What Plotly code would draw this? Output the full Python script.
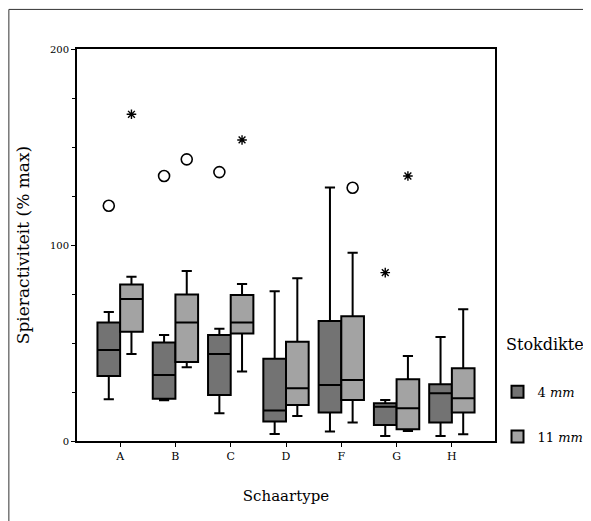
import plotly.graph_objects as go

categories = ["A", "B", "C", "D", "F", "G", "H"]

# 4 mm summary statistics
q1_4 = [33.2, 21.5, 23.5, 9.9, 14.5, 8.2, 9.4]
med_4 = [46.4, 33.7, 44.4, 15.5, 28.6, 17.5, 24.3]
q3_4 = [60.5, 50.2, 54.1, 42.0, 61.2, 19.2, 28.9]
lo_4 = [21.3, 20.8, 14.1, 3.6, 4.8, 2.6, 2.6]
hi_4 = [65.8, 54.1, 57.3, 76.4, 129.4, 20.9, 53.1]

# 11 mm summary statistics
q1_11 = [55.8, 40.3, 54.9, 18.4, 20.9, 6.0, 14.6]
med_11 = [72.4, 60.4, 60.4, 26.9, 31.1, 16.7, 21.8]
q3_11 = [79.8, 74.8, 74.5, 50.7, 63.6, 31.5, 37.1]
lo_11 = [44.4, 37.6, 35.4, 12.8, 9.4, 5.1, 3.4]
hi_11 = [83.8, 86.7, 80.1, 83.0, 96.1, 43.4, 67.2]

# outliers (circles) and extremes (stars): (category, group, value)
circle_cat = ["A", "B", "B", "C", "F"]
circle_grp = ["4 mm", "4 mm", "11 mm", "4 mm", "11 mm"]
circle_val = [120.0, 135.2, 143.7, 137.2, 129.2]
star_cat = ["A", "C", "G", "G"]
star_grp = ["11 mm", "11 mm", "4 mm", "11 mm"]
star_val = [166.7, 153.6, 85.9, 135.2]

groups = ["4 mm", "11 mm"]
labels = {"4 mm": "4 <i>mm</i>", "11 mm": "11 <i>mm</i>"}
offsets = {"4 mm": -0.205, "11 mm": 0.205}
fills = {"4 mm": "#737373", "11 mm": "#a3a3a3"}
stats = {
    "4 mm": (q1_4, med_4, q3_4, lo_4, hi_4),
    "11 mm": (q1_11, med_11, q3_11, lo_11, hi_11),
}

serif = "DejaVu Serif, Liberation Serif, serif"
fig = go.Figure()

for g in groups:
    q1, med, q3, lo, hi = stats[g]
    xs = [categories.index(c) + offsets[g] for c in categories]
    fig.add_trace(go.Box(
        x=xs, q1=q1, median=med, q3=q3, lowerfence=lo, upperfence=hi,
        name=labels[g], width=0.41, fillcolor=fills[g],
        line=dict(color="black", width=2), whiskerwidth=0.45,
        boxpoints=False, legendgroup=g, hoverinfo="y",
    ))

def pts(cats, grps, vals):
    return [categories.index(c) + offsets[g] for c, g in zip(cats, grps)], vals

cx, cy = pts(circle_cat, circle_grp, circle_val)
fig.add_trace(go.Scatter(
    x=cx, y=cy, mode="markers", showlegend=False,
    marker=dict(symbol="circle-open", size=11, color="black", line=dict(width=1.6)),
))
sx, sy = pts(star_cat, star_grp, star_val)
fig.add_trace(go.Scatter(
    x=sx, y=sy, mode="markers", showlegend=False,
    marker=dict(symbol="asterisk-open", size=8, color="black", line=dict(width=1.4)),
))

# page frame of the scan (the page body has an 8px margin)
for x0, y0, x1, y1 in [(-0.163, 1.101, 1.215, 1.101), (-0.163, 1.101, -0.163, -0.21),
                       (1.215, 1.101, 1.215, -0.21)]:
    fig.add_shape(type="line", xref="paper", yref="paper", x0=x0, y0=y0, x1=x1, y1=y1,
                  line=dict(color="#333", width=1))

fig.add_annotation(
    text="Stokdikte", xref="paper", yref="paper", x=1.022, y=0.2474,
    xanchor="left", yanchor="middle", showarrow=False, font=dict(size=16),
)

fig.update_layout(
    width=583, height=513,
    margin=dict(l=69, r=96, t=41, b=80, autoexpand=False),
    paper_bgcolor="white", plot_bgcolor="white",
    font=dict(family=serif, color="black", size=12),
    showlegend=True,
    legend=dict(
        x=1.006, y=0.164, xanchor="left", yanchor="top",
        font=dict(size=13), tracegroupgap=25, itemsizing="constant",
        bgcolor="rgba(0,0,0,0)",
    ),
    xaxis=dict(
        range=[-0.78, 6.78], tickvals=list(range(len(categories))), ticktext=categories,
        showline=True, mirror=True, linecolor="black", linewidth=2,
        ticks="outside", ticklen=4, tickcolor="black", showgrid=False, zeroline=False,
        tickfont=dict(size=11, family=serif),
        title=dict(text="Schaartype", font=dict(size=15), standoff=28),
    ),
    yaxis=dict(
        range=[0, 200], tickvals=[0, 100, 200],
        showline=True, mirror=True, linecolor="black", linewidth=2,
        ticks="outside", ticklen=4, tickcolor="black", showgrid=False, zeroline=False,
        minor=dict(dtick=25, ticks="outside", ticklen=3, tickcolor="black", showgrid=False),
        tickfont=dict(size=10, family=serif),
        title=dict(text="Spieractiviteit (% max)", font=dict(size=17), standoff=16),
    ),
)

fig.write_html("out.html")
